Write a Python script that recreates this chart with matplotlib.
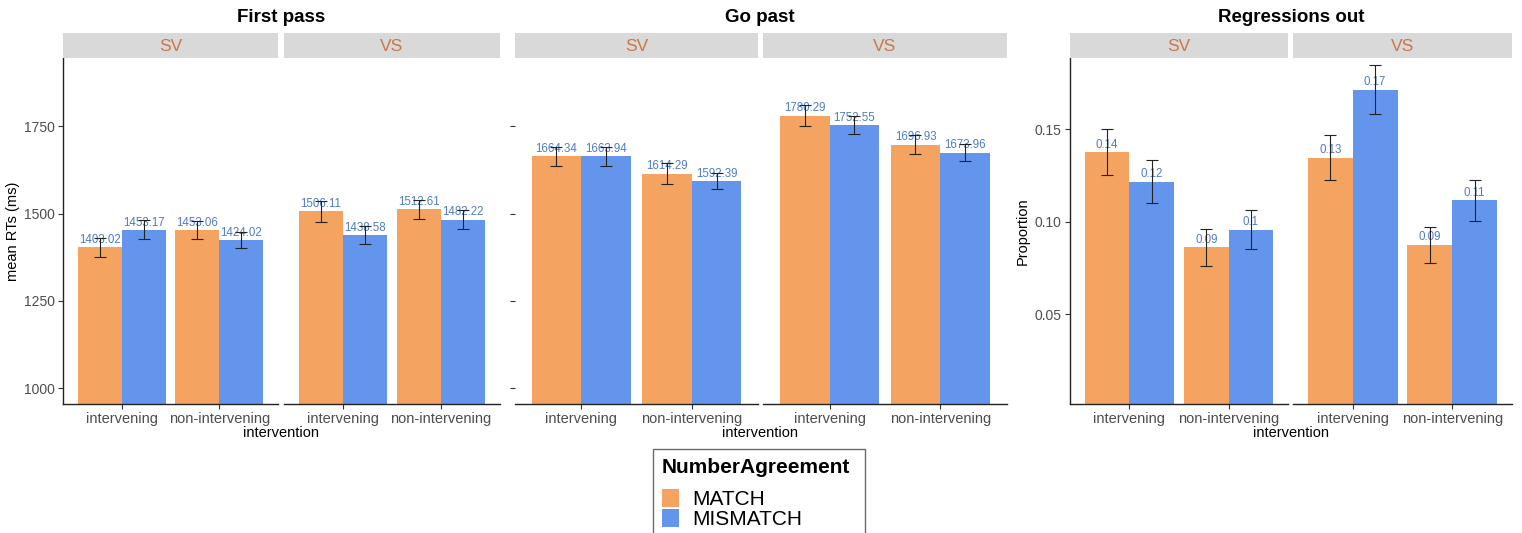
import matplotlib
matplotlib.use("Agg")
import matplotlib.pyplot as plt
from matplotlib.patches import Patch

plt.rcParams['font.family'] = ['Liberation Sans', 'DejaVu Sans']

# ---------------- data ----------------
orders = ["SV", "VS"]
interventions = ["intervening", "non-intervening"]
agreements = ["MATCH", "MISMATCH"]

# values per order: [intervening, non-intervening]
fp_match = {"SV": [1403.02, 1453.06], "VS": [1506.11, 1512.61]}
fp_mismatch = {"SV": [1453.17, 1424.02], "VS": [1438.58, 1482.22]}
fp_se_match = {"SV": [28, 25], "VS": [30, 27]}
fp_se_mismatch = {"SV": [27, 23], "VS": [26, 27]}

gp_match = {"SV": [1664.34, 1614.29], "VS": [1780.29, 1696.93]}
gp_mismatch = {"SV": [1663.94, 1592.39], "VS": [1752.55, 1673.96]}
gp_se_match = {"SV": [27, 29], "VS": [31, 28]}
gp_se_mismatch = {"SV": [27, 23], "VS": [26, 25]}

ro_match = {"SV": [0.1377, 0.0861], "VS": [0.1347, 0.0875]}
ro_mismatch = {"SV": [0.1217, 0.0957], "VS": [0.1713, 0.1117]}
ro_se_match = {"SV": [0.0123, 0.0099], "VS": [0.0124, 0.0099]}
ro_se_mismatch = {"SV": [0.0116, 0.0104], "VS": [0.0132, 0.0111]}

panel_titles = ["First pass", "Go past", "Regressions out"]
ylabels = ["mean RTs (ms)", None, "Proportion"]
rt_ticks = [1000, 1250, 1500, 1750]
prop_ticks = [0.05, 0.10, 0.15]

# ---------------- style ----------------
C_MATCH = "#F4A460"
C_MISMATCH = "#6495ED"
LABEL_COL = "#4F7BC8"
STRIP_BG = "#D9D9D9"
STRIP_TXT = "#C9784A"
TICK_COL = "#4D4D4D"

W, H = 1522, 533
fig = plt.figure(figsize=(W / 100, H / 100), dpi=100)

TOP, BOT = 58, 404

def fig_axes(x0, x1, y0, y1):
    return fig.add_axes([x0 / W, 1 - y1 / H, (x1 - x0) / W, (y1 - y0) / H])

panels = [
    dict(match=fp_match, mismatch=fp_mismatch, sem=fp_se_match, sei=fp_se_mismatch,
         ylim=(955, 1945), ticks=rt_ticks, labels=True, fmt=lambda v: f"{v:.2f}",
         facets=[(63, 278), (284, 500)], center=281),
    dict(match=gp_match, mismatch=gp_mismatch, sem=gp_se_match, sei=gp_se_mismatch,
         ylim=(955, 1945), ticks=rt_ticks, labels=False, fmt=lambda v: f"{v:.2f}",
         facets=[(515, 758), (763, 1007)], center=760),
    dict(match=ro_match, mismatch=ro_mismatch, sem=ro_se_match, sei=ro_se_mismatch,
         ylim=(0.0015, 0.1885), ticks=prop_ticks, labels=True,
         fmt=lambda v: f"{round(v, 2):g}",
         facets=[(1070, 1288), (1293, 1512)], center=1291),
]

bw = 0.45
for pi, p in enumerate(panels):
    for fi, order in enumerate(orders):
        x0, x1 = p["facets"][fi]
        ax = fig_axes(x0, x1, TOP, BOT)
        ax.set_xlim(0.4, 2.6)
        ax.set_ylim(*p["ylim"])
        xs = [1, 2]
        for k, (vals, ses, col) in enumerate([
                (p["match"][order], p["sem"][order], C_MATCH),
                (p["mismatch"][order], p["sei"][order], C_MISMATCH)]):
            off = -bw / 2 if k == 0 else bw / 2
            xp = [x + off for x in xs]
            ax.bar(xp, vals, width=bw, color=col, zorder=2)
            for xx, v in zip(xp, vals):
                ax.annotate(p["fmt"](v), (xx, v), xytext=(0, 1), textcoords="offset points",
                            ha="center", va="bottom", fontsize=8.3, color=LABEL_COL, zorder=3)
            ax.errorbar(xp, vals, yerr=ses, fmt="none", ecolor="#222222",
                        elinewidth=0.8, capsize=4.3, capthick=0.8, zorder=4)
        for s in ["top", "right"]:
            ax.spines[s].set_visible(False)
        ax.spines["bottom"].set_color("#222222")
        ax.spines["bottom"].set_linewidth(1.0)
        ax.spines["left"].set_color("#222222")
        ax.spines["left"].set_linewidth(1.0)
        ax.set_xticks(xs)
        ax.set_xticklabels(interventions, fontsize=10.5, color=TICK_COL)
        ax.tick_params(axis="x", length=3.5, color="#333333", pad=2.0)
        if fi == 0:
            ax.set_yticks(p["ticks"])
            if p["labels"]:
                if pi == 2:
                    ax.set_yticklabels([f"{t:.2f}" for t in p["ticks"]])
                else:
                    ax.set_yticklabels([str(t) for t in p["ticks"]])
            else:
                ax.set_yticklabels([])
                ax.spines["left"].set_visible(False)
            ax.tick_params(axis="y", length=3.5, color="#333333", labelsize=10,
                           labelcolor=TICK_COL, pad=2.5)
        else:
            ax.spines["left"].set_visible(False)
            ax.set_yticks([])
        # strip
        sax = fig_axes(x0, x1, 33, 58)
        sax.set_facecolor(STRIP_BG)
        sax.set_xticks([]); sax.set_yticks([])
        for s in sax.spines.values():
            s.set_visible(False)
        sax.text(0.5, 0.45, order, ha="center", va="center", fontsize=12.5,
                 color=STRIP_TXT, transform=sax.transAxes)
    # titles and axis labels
    fig.text(p["center"] / W, 1 - 17 / H, panel_titles[pi], ha="center", va="center",
             fontsize=13.5, fontweight="bold")
    fig.text(p["center"] / W, 1 - 433 / H, "intervention", ha="center", va="center",
             fontsize=10.5)

fig.text(13 / W, 1 - 231 / H, ylabels[0], rotation=90, ha="center", va="center", fontsize=10.5)
fig.text(1023 / W, 1 - 231 / H, ylabels[2], rotation=90, ha="center", va="center", fontsize=10.5)

handles = [Patch(facecolor=C_MATCH, edgecolor="none"), Patch(facecolor=C_MISMATCH, edgecolor="none")]
leg = fig.legend(handles, agreements, title="NumberAgreement", loc="upper left",
                 bbox_to_anchor=(653 / W, 0, 212 / W, 1 - 449 / H), mode="expand",
                 frameon=True, fancybox=False,
                 edgecolor="#444444", fontsize=15, handlelength=0.82, handleheight=0.96,
                 labelspacing=0.0, handletextpad=0.62, borderpad=0.42, borderaxespad=0,
                 alignment="left", title_fontproperties={"weight": "bold", "size": 15})
leg._legend_box.sep = 8.5
leg.get_frame().set_linewidth(1.0)

fig.savefig("out.png", dpi=100)
